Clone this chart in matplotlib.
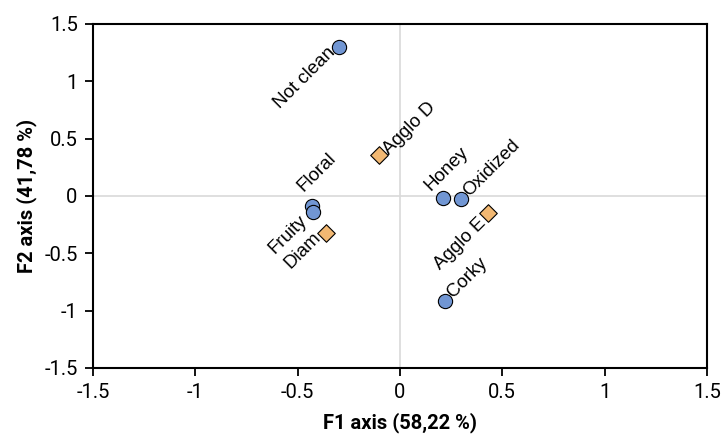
import matplotlib
matplotlib.use('Agg')

import matplotlib.pyplot as plt

plt.rcParams['font.family'] = ['Roboto', 'DejaVu Sans']

# descriptors (circles)
desc_names = ["Not clean", "Floral", "Fruity", "Honey", "Oxidized", "Corky"]
desc_f1 = [-0.30, -0.43, -0.425, 0.21, 0.30, 0.22]
desc_f2 = [1.30, -0.09, -0.14, -0.02, -0.03, -0.92]

# samples (diamonds)
samp_names = ["Agglo D", "Diam", "Agglo E"]
samp_f1 = [-0.10, -0.36, 0.43]
samp_f2 = [0.36, -0.32, -0.145]

# label placement: (dx, dy in pixels, ha)
label_pos = {
    "Not clean": (-6, -3, "right"),
    "Floral": (-12, 17, "left"),
    "Fruity": (-8, -6, "right"),
    "Honey": (-15, 10, "left"),
    "Oxidized": (5, 6, "left"),
    "Corky": (5, 6, "left"),
    "Agglo D": (7, 3, "left"),
    "Diam": (-8, -2, "right"),
    "Agglo E": (-5, -8, "right"),
}

fig = plt.figure(figsize=(7.23, 4.44), dpi=100)
ax = fig.add_axes([0.1286, 0.1712, 0.849, 0.7748])

ax.axhline(0, color="#d9d9d9", lw=1.2, zorder=0)
ax.axvline(0, color="#d9d9d9", lw=1.2, zorder=0)

ax.scatter(desc_f1, desc_f2, s=105, marker="o", color="#7196d3",
           edgecolor="black", linewidth=0.8, zorder=3)
ax.scatter(samp_f1, samp_f2, s=80, marker="D", color="#f2b872",
           edgecolor="black", linewidth=0.8, zorder=3)

px = 72 / 100
for names, xs, ys in [(desc_names, desc_f1, desc_f2), (samp_names, samp_f1, samp_f2)]:
    for n, x, y in zip(names, xs, ys):
        dx, dy, ha = label_pos[n]
        ax.annotate(n, (x, y), xytext=(dx * px, dy * px), textcoords="offset points",
                    rotation=45, rotation_mode="anchor", ha=ha, va="center",
                    fontsize=13.5, family=['Liberation Sans', 'DejaVu Sans'])

ax.set_xlim(-1.5, 1.5)
ax.set_ylim(-1.5, 1.5)
ax.set_xticks([-1.5, -1, -0.5, 0, 0.5, 1, 1.5])
ax.set_xticklabels(["-1.5", "-1", "-0.5", "0", "0.5", "1", "1.5"])
ax.set_yticks([-1.5, -1, -0.5, 0, 0.5, 1, 1.5])
ax.set_yticklabels(["-1.5", "-1", "-0.5", "0", "0.5", "1", "1.5"])
ax.tick_params(direction="out", length=6, width=1.3, labelsize=14.5, pad=5)
for s in ax.spines.values():
    s.set_linewidth(1.5)

ax.set_xlabel("F1 axis (58,22 %)", fontsize=14.5, fontweight="bold", labelpad=7)
ax.set_ylabel("F2 axis (41,78 %)", fontsize=14.5, fontweight="bold", labelpad=5)

plt.savefig("out.png", dpi=100)
plt.close()
